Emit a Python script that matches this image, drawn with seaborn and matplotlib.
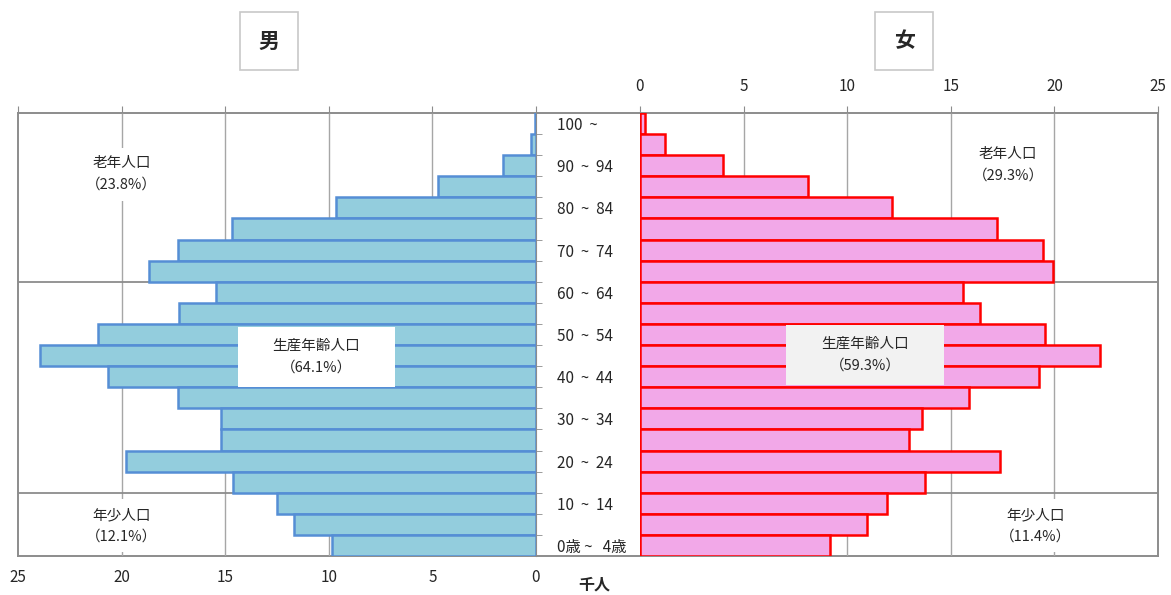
import numpy as np
import matplotlib
matplotlib.use("Agg")
import matplotlib.pyplot as plt
import seaborn as sns
from matplotlib.patches import Rectangle

# データ（単位：千人）上から 100～ , 95～99 ... 0～4
ages = ["100～", "95～99", "90～94", "85～89", "80～84", "75～79", "70～74",
        "65～69", "60～64", "55～59", "50～54", "45～49", "40～44", "35～39",
        "30～34", "25～29", "20～24", "15～19", "10～14", "5～9", "0～4"]
male = [0.05, 0.26, 1.58, 4.73, 9.64, 14.66, 17.28, 18.66, 15.44, 17.21, 21.12,
        23.96, 20.67, 17.28, 15.20, 15.20, 19.79, 14.61, 12.48, 11.69, 9.86]
female = [0.24, 1.22, 3.99, 8.11, 12.18, 17.25, 19.45, 19.94, 15.58, 16.39, 19.57,
          22.2, 19.25, 15.87, 13.6, 12.99, 17.37, 13.77, 11.9, 10.94, 9.16]
age_labels = ["100  ~", "90  ~  94", "80  ~  84", "70  ~  74", "60  ~  64", "50  ~  54",
              "40  ~  44", "30  ~  34", "20  ~  24", "10  ~  14", "0歳 ~   4歳"]
x_ticks = [0, 5, 10, 15, 20, 25]

# 年齢区分の割合
share_male = {"老年人口": "23.8%", "生産年齢人口": "64.1%", "年少人口": "12.1%"}
share_female = {"老年人口": "29.3%", "生産年齢人口": "59.3%", "年少人口": "11.4%"}

sns.set_style("white")
plt.rcParams["font.family"] = ["Noto Sans CJK JP", "DejaVu Sans"]

W, H = 1171, 595
fig = plt.figure(figsize=(W / 100, H / 100), dpi=100)

gray = "#8c8c8c"
grid_gray = "#a6a6a6"
top_px, bot_px = 113, 556
b = (H - bot_px) / H
h = (bot_px - top_px) / H

# 外枠（上下の線は中央の年齢欄も横切る）
ax_bg = fig.add_axes([18 / W, b, (1158 - 18) / W, h], zorder=0)
ax_bg.set_xticks([])
ax_bg.set_yticks([])
for s in ax_bg.spines.values():
    s.set_color(gray)
    s.set_linewidth(1.4)
ax_bg.patch.set_alpha(0)

ax_l = fig.add_axes([18 / W, b, 518 / W, h], zorder=1)
ax_r = fig.add_axes([640 / W, b, 518 / W, h], zorder=1)

sns.barplot(x=male, y=ages, ax=ax_l, orient="h", color="#93cddd", saturation=1,
            edgecolor="#558ed5", linewidth=1.8, width=1.0, zorder=2)
sns.barplot(x=female, y=ages, ax=ax_r, orient="h", color="#f2a8e8", saturation=1,
            edgecolor="#ff0000", linewidth=1.8, width=1.0, zorder=2)

n = len(ages)
# 区分の境目（65歳／15歳）
bounds = [ages.index("65～69") + 0.5, ages.index("15～19") + 0.5]

for ax in (ax_l, ax_r):
    ax.set_ylim(n - 0.5, -0.5)
    ax.set_xlabel("")
    ax.set_ylabel("")
    ax.set_xticks(x_ticks)
    ax.patch.set_alpha(0)
    for s in ax.spines.values():
        s.set_visible(False)
    for x in x_ticks[1:-1]:
        ax.axvline(x, color=grid_gray, lw=1, zorder=0.5)
    for y in bounds:
        ax.axhline(y, color=gray, lw=1.3, zorder=0.5)

# 男（左）
ax_l.set_xlim(25, 0)
ax_l.tick_params(axis="x", bottom=False, top=True, labelbottom=True, labeltop=False,
                 direction="out", length=5, color=gray, labelsize=11, pad=4)
ax_l.yaxis.tick_right()
ax_l.set_yticks(range(0, n, 2))
ax_l.set_yticklabels(age_labels)
ax_l.set_yticks(np.arange(0.5, n - 1, 1), minor=True)
ax_l.tick_params(axis="y", which="major", length=0, pad=15, labelsize=11)
ax_l.tick_params(axis="y", which="minor", length=4, color=gray, direction="out")
for lab in ax_l.get_yticklabels():
    lab.set_horizontalalignment("left")
ax_l.spines["right"].set_visible(True)
ax_l.spines["right"].set_color(gray)

# 女（右）
ax_r.set_xlim(0, 25)
ax_r.tick_params(axis="x", bottom=False, top=True, labelbottom=False, labeltop=True,
                 direction="out", length=5, color=gray, labelsize=11, pad=8)
ax_r.set_yticks([])

# 区分ラベル
def put_labels(ax, share, pos, mid_bg):
    (xo, yo), (xm, ym), (xy, yy) = pos
    ax.text(xo, yo, "老年人口\n（" + share["老年人口"] + "）", ha="center", va="center",
            fontsize=10.5, linespacing=1.7, zorder=3,
            bbox=dict(boxstyle="square,pad=0.6", fc="white", ec="none"))
    ax.text(xy, yy, "年少人口\n（" + share["年少人口"] + "）", ha="center", va="center",
            fontsize=10.5, linespacing=1.7, zorder=3,
            bbox=dict(boxstyle="square,pad=0.6", fc="white", ec="none"))
    wx, wy = 7.6, 2.84
    ax.add_patch(Rectangle((xm - wx / 2, ym - wy / 2), wx, wy, fc=mid_bg, ec="none", zorder=3))
    ax.text(xm, ym, "生産年齢人口\n（" + share["生産年齢人口"] + "）", ha="center", va="center",
            fontsize=10.5, linespacing=1.7, zorder=4)

put_labels(ax_l, share_male, [(20, 2.4), (10.6, 11.06), (20, 19.07)], "white")
put_labels(ax_r, share_female, [(17.76, 1.96), (10.86, 10.97), (19.1, 19.07)], "#f2f2f2")

# タイトル
fig.text(269 / W, 1 - 41 / H, "男", ha="center", va="center", fontsize=15, fontweight="bold",
         bbox=dict(boxstyle="square,pad=0.9", fc="white", ec="#c8c8c8", lw=1.2))
fig.text(904 / W, 1 - 41 / H, "女", ha="center", va="center", fontsize=15, fontweight="bold",
         bbox=dict(boxstyle="square,pad=0.9", fc="white", ec="#c8c8c8", lw=1.2))
fig.text(594 / W, 1 - 585 / H, "千人", ha="center", va="center", fontsize=11.5, fontweight="bold")

fig.savefig("out.png", dpi=100)
